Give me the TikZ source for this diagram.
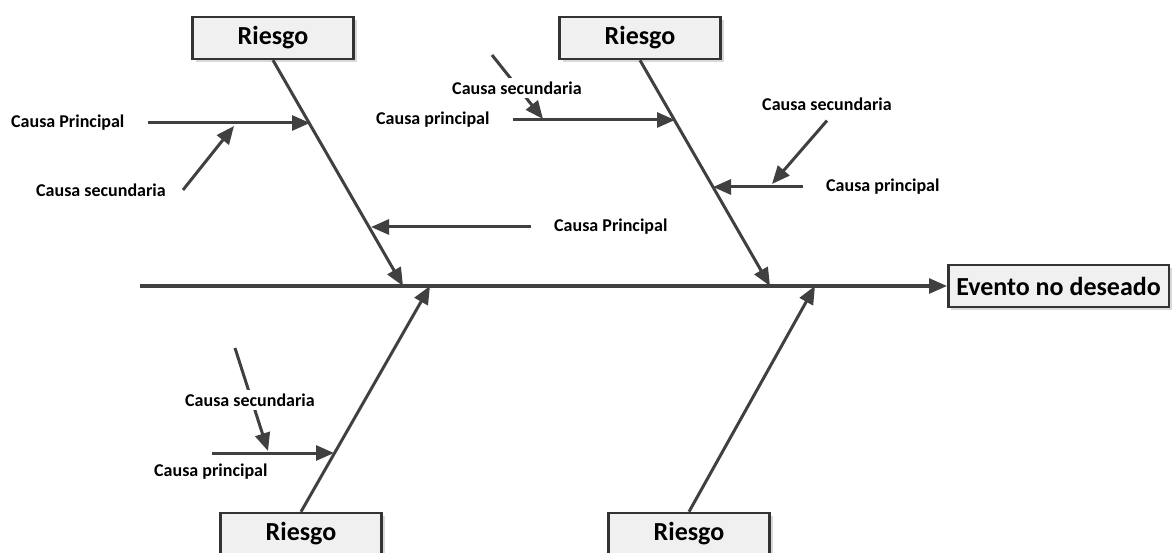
\documentclass[tikz,border=0pt]{standalone}
\usepackage{fontspec}
\setmainfont{Carlito}
\usetikzlibrary{arrows.meta,shadows}

\begin{document}
\begin{tikzpicture}[x=1pt, y=-1pt,
					riskbox/.style={rectangle,
					line width=2.5pt,
					minimum width=161pt,
					minimum height=42pt,
					draw=black!80,
					fill=black!6,
					font=\fontsize{26}{28}\selectfont\bfseries,
					drop shadow={opacity=0.3, shadow xshift=3pt, shadow yshift=-3pt}},
					eventbox/.style={riskbox,
					minimum width=0pt,
					inner xsep=8pt,
					anchor=west},
					causelabel/.style={font=\fontsize{18}{20}\selectfont\bfseries,
					inner sep=1pt},
					causelabelbg/.style={causelabel, fill=white, inner ysep=4pt},
					bone/.style={line width=3pt, draw=black!75,
					-{Triangle[length=18pt,width=15pt]}}
					]

% page size of the reference
\useasboundingbox (0,0) rectangle (1172,553);

%Riesgo nodes
\node[riskbox] (r1) at (273,38) {Riesgo};
\node[riskbox] (r2) at (640,38) {Riesgo};
\node[riskbox] (r3) at (301,534) {Riesgo};
\node[riskbox] (r4) at (689,534) {Riesgo};

%event node
\node[eventbox] (ev) at (947,286) {Evento no deseado};

%spine
\coordinate (s0) at (140,286);
\draw[bone] (s0) -- (ev.west);

%bones (heads on the spine)
\coordinate (h1) at (403,286);
\coordinate (h2) at (770,286);
\coordinate (h3) at (430,286);
\coordinate (h4) at (815,286);
\draw[bone] (r1.south) -- (h1);
\draw[bone] (r2.south) -- (h2);
\draw[bone] (r3.north) -- (h3);
\draw[bone] (r4.north) -- (h4);

%causes on bone 1
\node[causelabel, anchor=west] (c1) at (10,123) {Causa Principal};
\coordinate (c1tip) at (310,123);
\draw[bone] ([xshift=22pt]c1.east) -- (c1tip);
\node[causelabel] (d1) at (101,190) {Causa secundaria};
\coordinate (d1tip) at (234,126);
\draw[bone] ([xshift=16pt]d1.east) -- (d1tip);

\node[causelabel, anchor=west] (c2) at (553,227) {Causa Principal};
\coordinate (c2tip) at (371,227);
\draw[bone] ([xshift=-22pt]c2.west) -- (c2tip);

%causes on bone 2
\node[causelabel, anchor=west] (c3) at (375,120) {Causa principal};
\coordinate (c3tip) at (675,120);
\draw[bone] ([xshift=22pt]c3.east) -- (c3tip);
\coordinate (d3top) at (492,55);
\coordinate (d3tip) at (543,119);
\draw[bone] (d3top) -- (d3tip);
\node[causelabelbg] (d3) at (517,88) {Causa secundaria};

\node[causelabel, anchor=west] (c4) at (825,187) {Causa principal};
\coordinate (c4tip) at (713,187);
\draw[bone] ([xshift=-22pt]c4.west) -- (c4tip);
\node[causelabel] (d4) at (827,104) {Causa secundaria};
\coordinate (d4tip) at (772,184);
\draw[bone] ([yshift=-9pt]d4.south) -- (d4tip);

%causes on bone 3
\node[causelabel, anchor=west] (c5) at (153,472) {Causa principal};
\coordinate (c5start) at (212,453);
\coordinate (c5tip) at (334,453);
\draw[bone] (c5start) -- (c5tip);
\coordinate (d5top) at (235,348);
\coordinate (d5tip) at (268,451);
\draw[bone] (d5top) -- (d5tip);
\node[causelabelbg] (d5) at (250,400) {Causa secundaria};

\end{tikzpicture}
\end{document}
